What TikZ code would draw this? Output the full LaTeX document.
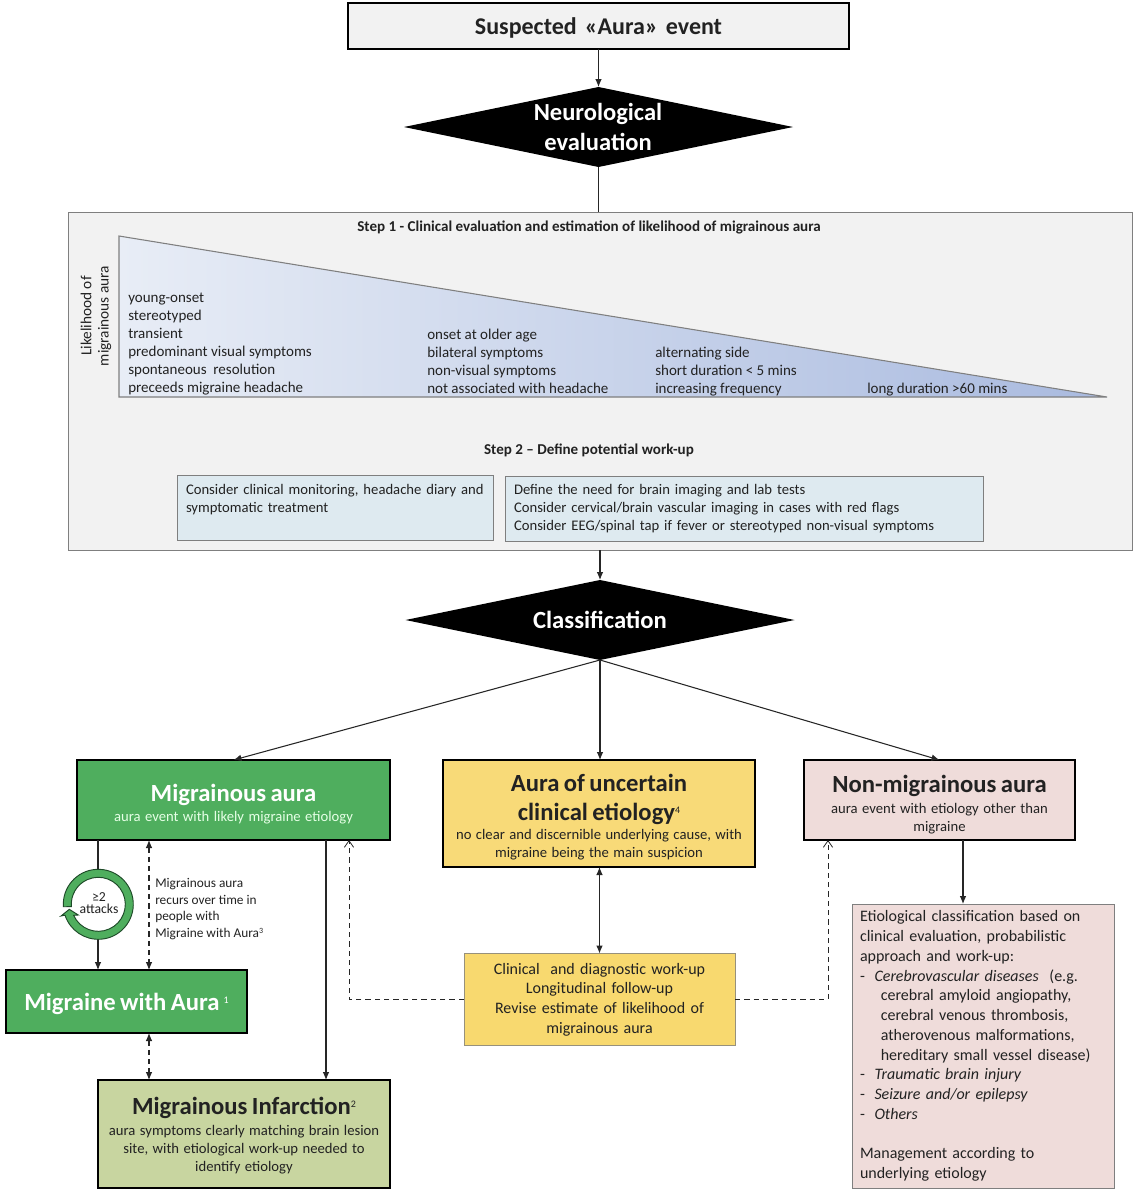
\documentclass[tikz,border=0pt]{standalone}
\usepackage{fontspec}
\setmainfont{Carlito}
\usetikzlibrary{shapes.geometric,arrows.meta,calc}
\newcommand\hdA{\fontsize{18.5}{22}\selectfont\bfseries}
\newcommand\bdA{\fontsize{11}{13.5}\selectfont}
\newcommand\bdL{\fontsize{11.25}{13.5}\selectfont}
\newcommand\bdB{\fontsize{12}{14.8}\selectfont}
\newcommand\SupS[1]{\raisebox{0.62ex}{\fontsize{7.5}{8}\selectfont\mdseries #1}}
\newcommand\SupT[1]{\raisebox{0.62ex}{\fontsize{6}{7}\selectfont #1}}
\newcommand\TopPad[1]{\rule{0pt}{\dimexpr 13.5pt+#1\relax}}
\definecolor{panelgray}{HTML}{F2F2F2}
\definecolor{linegray}{HTML}{7F7F7F}
\definecolor{stepblue}{HTML}{DEEAF0}
\definecolor{mgreen}{HTML}{4FAE5E}
\definecolor{myellow}{HTML}{F8DA78}
\definecolor{wyellow}{HTML}{F8D96F}
\definecolor{mpink}{HTML}{EFDCDA}
\definecolor{molive}{HTML}{C8D5A0}
\definecolor{txt}{HTML}{222222}
\definecolor{ringdark}{HTML}{1E4A28}
\definecolor{tleft}{HTML}{E8EDF6}
\definecolor{tright}{HTML}{A9BADF}
\tikzset{
  bx/.style 2 args={rectangle,inner sep=0pt,outer sep=0pt,text width=#1,minimum width=#1,minimum height=#2,align=center,text=txt},
  heavy/.style={draw=black,line width=1.9pt},
  thin box/.style={draw=linegray,line width=0.7pt},
  dia/.style={diamond,fill=black,draw=none,inner sep=0pt,outer sep=0pt,minimum width=291.75pt,minimum height=60pt},
  con/.style={line width=0.8pt,draw=black!85},
  ar/.style={con,-{Latex[length=6pt,width=5pt]}},
  arb/.style={con,{Latex[length=6pt,width=5pt]}-{Latex[length=6pt,width=5pt]}},
  dsh/.style={dash pattern=on 4pt off 3pt},
  open/.style={line width=0.6pt,draw=black!85,dsh,-{Straight Barb[length=5pt,width=7pt]}},
  tlist/.style={anchor=south west,inner sep=0pt,align=left,font=\bdL,text=txt},
  steptitle/.style={font=\fontsize{11.3}{13}\selectfont\bfseries,text=txt,inner sep=0pt},
}
\begin{document}
\begin{tikzpicture}[x=0.75pt,y=-0.75pt]
\useasboundingbox (0,0) rectangle (1145,1200);
% x guides for connectors
\coordinate (xa) at (98,0);
\coordinate (xb) at (149,0);
\coordinate (xc) at (326,0);
\coordinate (xd) at (349,0);
\coordinate (xe) at (828,0);
\coordinate (xf) at (963,0);
\coordinate (tA) at (119,236);
\coordinate (tB) at (119,397);
\coordinate (tC) at (1107,397);

% panel
\node[bx={798pt}{253.5pt},fill=panelgray,thin box] (panel) at (600,381) {};
\node[steptitle] (s1t) at (589,227) {Step 1 - Clinical evaluation and estimation of likelihood of migrainous aura};
\shade[left color=tleft, right color=tright] (tA) -- (tB) -- (tC) -- cycle;
\draw[linegray,line width=0.8pt] (tA) -- (tB) -- (tC) -- cycle;
\node[font=\fontsize{11.5}{13}\selectfont,align=center,rotate=90,inner sep=0pt,text=txt] (lik) at (96,316) {Likelihood of\\migrainous aura};
\node[tlist] (c1) at (128,395) {young-onset\\stereotyped\\transient\\predominant visual symptoms\\spontaneous\ \ resolution\\preceeds migraine headache};
\node[tlist] (c2) at (427,394) {onset at older age\\bilateral symptoms\\non-visual symptoms\\not associated with headache};
\node[tlist] (c3) at (655,396) {alternating side\\short duration < 5 mins\\increasing frequency};
\node[tlist] (c4) at (867,396) {long duration >60 mins};
\node[steptitle] (s2t) at (589,450) {Step 2 – Define potential work-up};
\node[bx={223.5pt}{48.75pt},inner xsep=6.75pt,fill=stepblue,thin box,align=left,font=\bdA] (s1) at (335,507.5) {Consider clinical monitoring, headache diary and\\symptomatic treatment\\\mbox{}};
\node[bx={345pt}{48.75pt},inner xsep=6.75pt,fill=stepblue,thin box,align=left,font=\bdA] (s2) at (744,508.5) {Define the need for brain imaging and lab tests\\Consider cervical/brain vascular imaging in cases with red flags\\Consider EEG/spinal tap if fever or stereotyped non-visual symptoms};

% top
\node[bx={375.75pt}{34.5pt},fill=panelgray,draw=black,line width=1.4pt,font=\fontsize{18}{21}\selectfont\bfseries] (top) at (598.5,26) {\rule{0pt}{16pt}Suspected «Aura» event};
\node[dia] (d1) at (598.5,127) {};
\node[font=\fontsize{18.4}{22}\selectfont\bfseries,text=white,align=center,inner sep=0pt] (d1t) at (598,127) {Neurological\\evaluation};
\node[dia] (d2) at (600,620) {};
\node[font=\fontsize{18.5}{21}\selectfont\bfseries,text=white,inner sep=0pt] (d2t) at (600,620) {Classification};

% class boxes
\node[bx={234.75pt}{60pt},fill=mgreen,heavy] (ma) at (233.5,800) {{\hdA\color{white}\TopPad{5pt}Migrainous aura\par}\vspace{1.5pt}{\bdA\color{green!10!white}aura event with likely migraine etiology\par}};
\node[bx={234pt}{80.25pt},fill=myellow,heavy] (unc) at (599,813.5) {{\hdA\TopPad{5pt}Aura of uncertain\\clinical etiology\SupS{4}\par}\vspace{0.8pt}{\bdA no clear and discernible underlying cause, with\\migraine being the main suspicion\par}};
\node[bx={203.25pt}{60pt},fill=mpink,heavy] (nm) at (939.5,800) {{\hdA\TopPad{6.5pt}Non-migrainous aura\par}\vspace{2.2pt}{\bdA aura event with etiology other than\\migraine\par}};
\node[bx={203.25pt}{69pt},fill=wyellow,thin box,draw=linegray!80!wyellow,font=\bdB] (wk) at (599.5,999.5) {Clinical\ \ and diagnostic work-up\\Longitudinal follow-up\\Revise estimate of likelihood of\\migrainous aura};
\node[bx={184.5pt}{213pt},inner xsep=6pt,fill=mpink,thin box,align=left,font=\bdB] (et) at (983,1046) {Etiological classification based on\\clinical evaluation, probabilistic\\approach and work-up:\\-\hspace{0.6em}\textit{Cerebrovascular diseases}\ \ (e.g.\\\hspace{1.3em}cerebral amyloid angiopathy,\\\hspace{1.3em}cerebral venous thrombosis,\\\hspace{1.3em}atherovenous malformations,\\\hspace{1.3em}hereditary small vessel disease)\\-\hspace{0.6em}\textit{Traumatic brain injury}\\-\hspace{0.6em}\textit{Seizure and/or epilepsy}\\-\hspace{0.6em}\textit{Others}\\\mbox{}\\Management according to\\underlying etiology};
\node[bx={180.75pt}{47.25pt},fill=mgreen,heavy] (mwa) at (126.5,1001.5) {{\hdA\color{white}\TopPad{3pt}Migraine with Aura\,\SupS{1}\par}};
\node[bx={219pt}{81pt},fill=molive,heavy] (inf) at (244,1134) {{\hdA\TopPad{2pt}Migrainous Infarction\SupS{2}\par}\vspace{2.2pt}{\bdA aura symptoms clearly matching brain lesion\\site, with etiological work-up needed to\\identify etiology\par}};

% connectors
\draw[ar] (top) -- (d1);
\draw[con] (d1.south) -- (d1.south |- panel.north);
\draw[ar] (panel.south -| d2.north) -- (d2.north);
\draw[ar] (d2.south) -- (ma.north);
\draw[ar] (d2.south) -- (unc.north -| d2.south);
\draw[ar] (d2.south) -- (nm.north);
\draw[ar] (ma.south -| xa) -- (mwa.north -| xa);
\draw[arb,dsh] (ma.south -| xb) -- (mwa.north -| xb);
\draw[arb,dsh] (mwa.south -| xb) -- (inf.north -| xb);
\draw[ar] (ma.south -| xc) -- (inf.north -| xc);
\draw[arb] (unc.south -| wk.north) -- (wk.north);
\draw[ar] (nm.south -| xf) -- (et.north -| xf);
\draw[open] (wk.west) -| (ma.south -| xd);
\draw[open] (wk.east) -| (nm.south -| xe);

% recurrence ring
\coordinate (rc) at (98.3,904.3);
\node[circle,fill=white,inner sep=0pt,minimum size=49pt] (ringbg) at (rc) {};
\filldraw[fill=mgreen,draw=ringdark,line width=0.7pt]
  ($(rc)+(176:35)$) arc[start angle=176,end angle=522,radius=35]
  -- (61,916) -- (69.3,909.3) -- (78.3,915)
  -- ($(rc)+(516:27)$) arc[start angle=516,end angle=175,radius=27] -- cycle;
\node[font=\fontsize{10.3}{9.5}\selectfont,align=center,inner sep=0pt,text=txt] (att) at (99,903) {≥2\\attacks};
\node[anchor=north west,inner sep=0pt,align=left,font=\fontsize{10}{12.3}\selectfont,text=txt] (rec) at (155,878.5) {Migrainous aura\\recurs over time in\\people with\\Migraine with Aura\SupT{3}};
\end{tikzpicture}
\end{document}
